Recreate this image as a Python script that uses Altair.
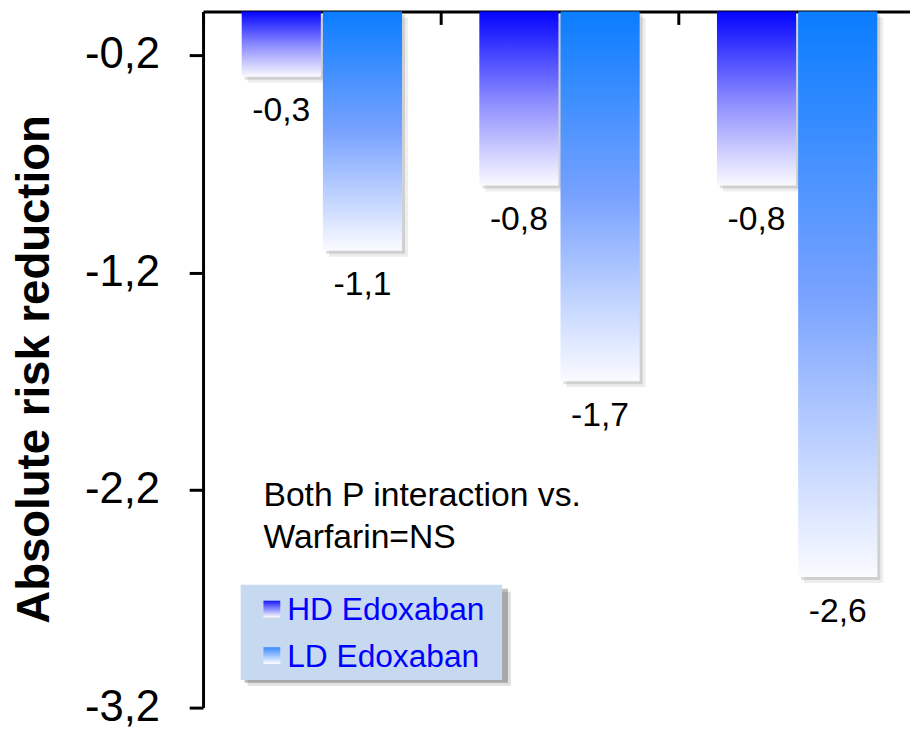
import altair as alt
import pandas as pd

groups = ["Group 1", "Group 2", "Group 3"]
series = ["HD Edoxaban", "LD Edoxaban"]
hd_values = [-0.3, -0.8, -0.8]
ld_values = [-1.1, -1.7, -2.6]
y_ticks = [-0.2, -1.2, -2.2, -3.2]
note_lines = ["Both P interaction vs.", "Warfarin=NS"]
y_title = "Absolute risk reduction"

rows = []
for g, h, l in zip(groups, hd_values, ld_values):
    rows.append({"group": g, "series": series[0], "value": h})
    rows.append({"group": g, "series": series[1], "value": l})
df = pd.DataFrame(rows)
one = pd.DataFrame({"k": [0]})

FONT = "Liberation Sans"
W, H = 714, 703
FMT = "(datum.value < 0 ? '-' : '') + replace(format(abs(datum.value), '.1f'), '.', ',')"

x_enc = alt.X(
    "group:N", sort=groups,
    scale=alt.Scale(domain=groups, range=[0, 720], paddingInner=0, paddingOuter=0),
    axis=alt.Axis(orient="bottom", offset=-H, labels=False, title=None, tickBand="extent",
                  tickSize=13, tickWidth=3, domainWidth=3, domainColor="black",
                  tickColor="black", grid=False),
)


def xo(align=0.5):
    return alt.XOffset("series:N", sort=series,
                       scale=alt.Scale(type="band", domain=series, paddingInner=0.025,
                                       paddingOuter=0.476, align=align))


y_enc = alt.Y(
    "value:Q",
    scale=alt.Scale(domain=[-3.2, 0], nice=False),
    axis=alt.Axis(values=y_ticks, orient="left", grid=False,
                  labelExpr=FMT,
                  labelFontSize=44, labelFont=FONT, labelColor="black", labelPadding=30,
                  tickSize=14, tickWidth=3, tickColor="black", domainWidth=3, domainColor="black",
                  title=y_title, titleFont=FONT, titleFontSize=46, titleFontWeight="bold",
                  titleColor="black", titleX=-170, titleY=361, titleAngle=270,
                  titleAlign="center", titleBaseline="middle"),
)


def grad(stops):
    return alt.Gradient(gradient="linear",
                        stops=[alt.GradientStop(color=c, offset=o) for o, c in stops],
                        x1=0, x2=0, y1=0, y2=1)


hd_grad = grad([(0, "#0404ff"), (0.5, "#8888ff"), (1, "#fafaff")])
ld_grad = grad([(0, "#0a7dff"), (0.5, "#78a2ff"), (1, "#fafbff")])

shadow1 = alt.Chart(df).mark_bar(color="black", opacity=0.07, yOffset=6, y2Offset=6).encode(
    x=x_enc, xOffset=xo(0.5 + 6 / 78), y=y_enc, y2=alt.datum(0))
shadow2 = alt.Chart(df).mark_bar(color="black", opacity=0.12, yOffset=3, y2Offset=3).encode(
    x=x_enc, xOffset=xo(0.5 + 3 / 78), y=y_enc, y2=alt.datum(0))

base = alt.Chart(df).encode(x=x_enc, xOffset=xo(), y=y_enc, y2=alt.datum(0))
bars_hd = base.transform_filter(alt.datum.series == series[0]).mark_bar(color=hd_grad)
bars_ld = base.transform_filter(alt.datum.series == series[1]).mark_bar(color=ld_grad)

labels = alt.Chart(df).transform_calculate(
    label=FMT
).mark_text(baseline="alphabetic", dy=45, fontSize=34, font=FONT, color="black").encode(
    x=x_enc, xOffset=xo(), y=y_enc, text="label:N"
)

note = alt.Chart(one).mark_text(align="left", baseline="alphabetic", fontSize=34, font=FONT,
                                color="black", lineHeight=43).encode(
    x=alt.value(61), y=alt.value(499), text=alt.value(note_lines)
)

leg_shadow2 = alt.Chart(one).mark_rect(color="#000000", opacity=0.12).encode(
    x=alt.value(45), x2=alt.value(311), y=alt.value(586), y2=alt.value(681))
leg_shadow = alt.Chart(one).mark_rect(color="#000000", opacity=0.25).encode(
    x=alt.value(42), x2=alt.value(308), y=alt.value(583), y2=alt.value(678))
leg_box = alt.Chart(one).mark_rect(color="#c6d9f1").encode(
    x=alt.value(38), x2=alt.value(302), y=alt.value(579), y2=alt.value(675))
leg_sq1 = alt.Chart(one).mark_rect(color=grad([(0, "#1a1aff"), (1, "#ffffff")])).encode(
    x=alt.value(61), x2=alt.value(78), y=alt.value(595), y2=alt.value(612))
leg_sq2 = alt.Chart(one).mark_rect(color=grad([(0, "#3a88ff"), (1, "#ffffff")])).encode(
    x=alt.value(61), x2=alt.value(78), y=alt.value(642), y2=alt.value(659))
leg_t1 = alt.Chart(one).mark_text(align="left", baseline="middle", fontSize=32, font=FONT,
                                  color="#0000ff").encode(
    x=alt.value(85), y=alt.value(605), text=alt.value(series[0]))
leg_t2 = alt.Chart(one).mark_text(align="left", baseline="middle", fontSize=32, font=FONT,
                                  color="#0000ff").encode(
    x=alt.value(85), y=alt.value(652), text=alt.value(series[1]))

chart = alt.layer(
    shadow1, shadow2, bars_hd, bars_ld, labels, note,
    leg_shadow2, leg_shadow, leg_box, leg_sq1, leg_sq2, leg_t1, leg_t2
).resolve_scale(
    xOffset="independent"
).properties(
    width=W, height=H,
    autosize=alt.AutoSizeParams(type="none"),
    padding={"left": 197, "top": 0, "right": 0, "bottom": 16},
).configure_view(stroke=None)

chart.save("out.html", embed_options={"renderer": "svg", "actions": False})
